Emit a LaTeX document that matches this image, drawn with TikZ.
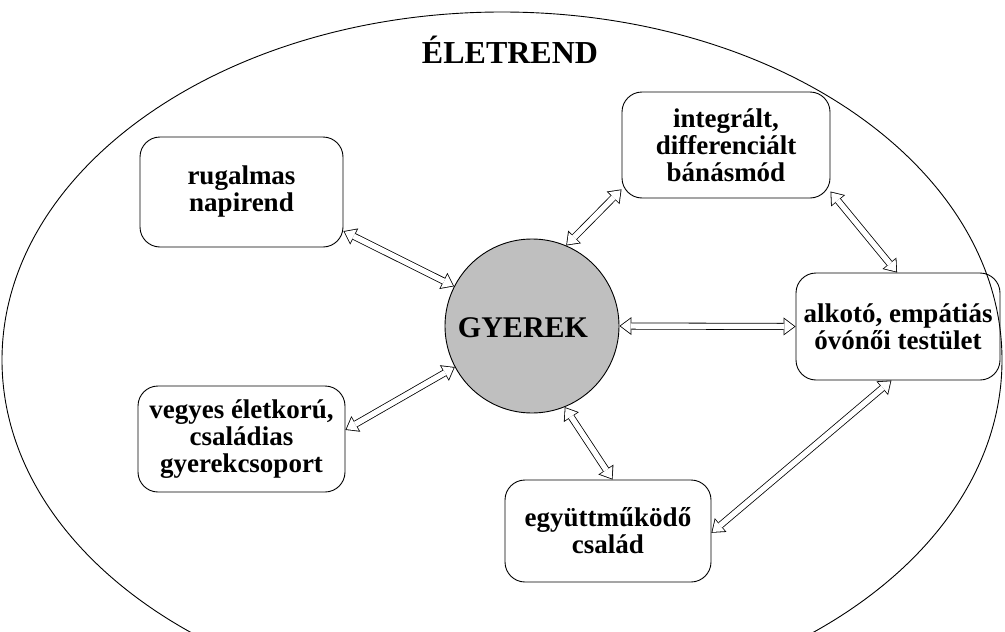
\documentclass[tikz,border=0pt]{standalone}
\usepackage{fontspec}
\setmainfont{Liberation Serif}
\usetikzlibrary{arrows.meta}
\newcommand{\hollowarrow}[2]{%
  \draw[line width=7pt, {Triangle[length=12pt,width=18pt,line width=0pt]}-{Triangle[length=12pt,width=18pt,line width=0pt]}] #1 -- #2;
  \draw[white, line width=5.4pt, shorten <=1.33pt, shorten >=1.33pt, {Triangle[length=9.9pt,width=14.8pt,line width=0pt]}-{Triangle[length=9.9pt,width=14.8pt,line width=0pt]}] #1 -- #2;}
\begin{document}
\begin{tikzpicture}[x=1pt,y=-1pt,
  box/.style={draw, rounded corners=20pt, line width=0.9pt, align=center, inner sep=0pt,
    font=\fontsize{27}{27}\selectfont\bfseries},
]
\useasboundingbox (0,0) rectangle (1005,632);
\draw[line width=0.9pt] (502,360) ellipse [x radius=500, y radius=348];
\node[font=\fontsize{32}{34}\selectfont\bfseries] (title) at (510,50) {ÉLETREND};
\node[draw, circle, fill=black!25, line width=0.9pt, minimum size=174pt, inner sep=0pt] (gy) at (532,326) {};
\node[font=\fontsize{30}{32}\selectfont\bfseries] (gyt) at (523,328) {GYEREK};
\node[box, minimum width=203pt, minimum height=110pt] (rug) at (241.5,192) {rugalmas\\napirend};
\node[box, minimum width=208pt, minimum height=106pt] (int) at (726,145) {integrált,\\differenciált\\bánásmód};
\node[box, minimum width=204pt, minimum height=107pt] (alk) at (898,326.5) {alkotó, empátiás\\óvónői testület};
\node[box, minimum width=207pt, minimum height=106pt] (veg) at (241.5,439) {vegyes életkorú,\\családias\\gyerekcsoport};
\node[box, minimum width=206pt, minimum height=102pt] (egy) at (608,531) {együttműködő\\család};
\hollowarrow{(rug.-21)}{(gy.153)}
\hollowarrow{(veg.5)}{(gy.208)}
\hollowarrow{(int.203)}{(gy.67)}
\hollowarrow{(gy.east)}{(alk.west)}
\hollowarrow{(gy.-68)}{(egy.85)}
\hollowarrow{(int.-24)}{(alk.91)}
\hollowarrow{(alk.263)}{(egy.-1)}
\end{tikzpicture}
\end{document}
